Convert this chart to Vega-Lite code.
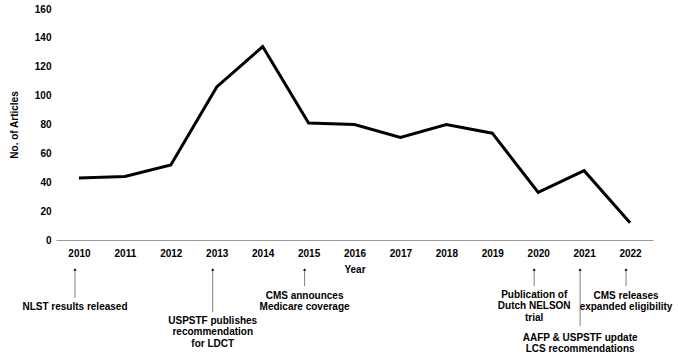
{
  "$schema": "https://vega.github.io/schema/vega-lite/v6.json",
  "padding": {"left": 9, "top": 4, "right": 0, "bottom": 0},
  "background": "white",
  "config": {
    "view": {"stroke": null},
    "font": "Liberation Sans",
    "axis": {"labelFont": "Liberation Sans", "titleFont": "Liberation Sans", "labelFontWeight": "bold", "titleFontWeight": "bold", "labelFontSize": 10, "titleFontSize": 10, "labelColor": "black", "titleColor": "black"}
  },
  "bounds": "flush",
  "spacing": 15,
  "resolve": {"scale": {"x": "shared"}},
  "datasets": {
    "articles": [
      {"year": 2010, "articles": 43},
      {"year": 2011, "articles": 44},
      {"year": 2012, "articles": 52},
      {"year": 2013, "articles": 106},
      {"year": 2014, "articles": 134},
      {"year": 2015, "articles": 81},
      {"year": 2016, "articles": 80},
      {"year": 2017, "articles": 71},
      {"year": 2018, "articles": 80},
      {"year": 2019, "articles": 74},
      {"year": 2020, "articles": 33},
      {"year": 2021, "articles": 48},
      {"year": 2022, "articles": 12}
    ],
    "events": [
      {"year": 2010, "label": "NLST results released", "arrowEnd": 43, "textTop": 46.5},
      {"year": 2013, "label": "USPSTF publishes\nrecommendation\nfor LDCT", "arrowEnd": 57, "textTop": 61},
      {"year": 2015, "label": "CMS announces\nMedicare coverage", "arrowEnd": 31, "textTop": 36},
      {"year": 2020, "label": "Publication of\nDutch NELSON\ntrial", "arrowEnd": 31, "textTop": 35},
      {"year": 2021, "label": "AAFP & USPSTF update\nLCS recommendations", "arrowEnd": 71, "textTop": 78},
      {"year": 2022, "label": "CMS releases\nexpanded eligibility", "arrowEnd": 31, "textTop": 36}
    ]
  },
  "vconcat": [
    {
      "width": 597,
      "height": 231,
      "data": {"name": "articles"},
      "mark": {"type": "line", "color": "black", "strokeWidth": 3},
      "encoding": {
        "x": {
          "field": "year", "type": "ordinal",
          "scale": {"type": "point", "padding": 0.5},
          "axis": {"title": "Year", "labelAngle": 0, "ticks": false, "domainColor": "#999999", "domainWidth": 1, "labelPadding": 8, "titlePadding": 6}
        },
        "y": {
          "field": "articles", "type": "quantitative",
          "scale": {"domain": [0, 160]},
          "axis": {"title": "No. of Articles", "values": [0, 20, 40, 60, 80, 100, 120, 140, 160], "grid": false, "domain": false, "ticks": false, "labelPadding": 5, "titlePadding": 15}
        }
      }
    },
    {
      "width": 597,
      "height": 100,
      "data": {"name": "events"},
      "layer": [
        {
          "mark": {"type": "rule", "color": "#808080", "strokeWidth": 1, "xOffset": -4},
          "encoding": {
            "x": {"field": "year", "type": "ordinal", "axis": null},
            "y": {"field": "arrowEnd", "type": "quantitative", "scale": {"domain": [0, 100], "reverse": true, "zero": false, "nice": false}, "axis": null},
            "y2": {"datum": 14}
          }
        },
        {
          "mark": {"type": "point", "shape": "triangle-up", "filled": true, "color": "black", "opacity": 1, "size": 10, "xOffset": -4},
          "encoding": {
            "x": {"field": "year", "type": "ordinal", "axis": null},
            "y": {"datum": 14.5, "type": "quantitative", "axis": null}
          }
        },
        {
          "mark": {"type": "text", "align": "center", "baseline": "top", "lineBreak": "\n", "fontSize": 10, "fontWeight": "bold", "lineHeight": 11.3, "color": "black", "xOffset": -4},
          "encoding": {
            "x": {"field": "year", "type": "ordinal", "axis": null},
            "y": {"field": "textTop", "type": "quantitative", "axis": null},
            "text": {"field": "label"}
          }
        }
      ]
    }
  ]
}
